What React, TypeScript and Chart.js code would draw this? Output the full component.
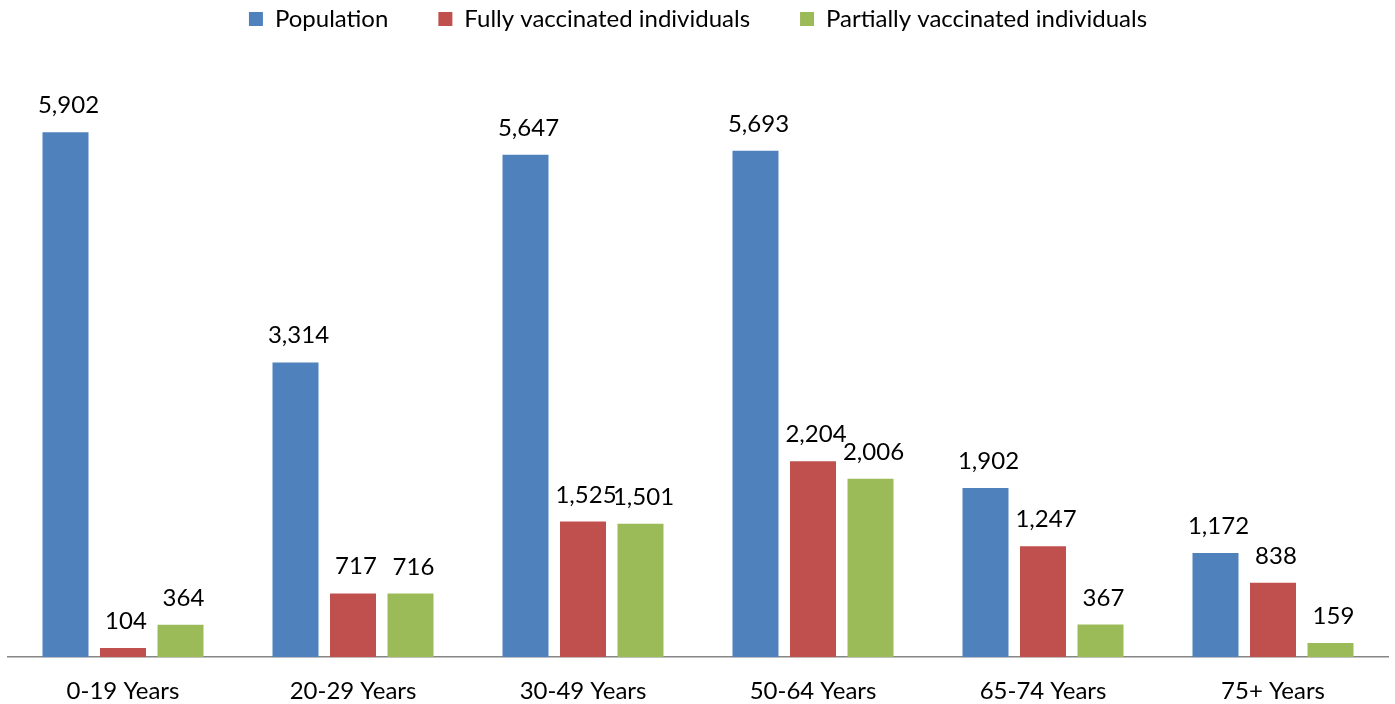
import React, { useEffect, useRef } from "react";
import { Chart, registerables } from "chart.js";

Chart.register(...registerables);

const categories = ["0-19 Years", "20-29 Years", "30-49 Years", "50-64 Years", "65-74 Years", "75+ Years"];
const population = [5902, 3314, 5647, 5693, 1902, 1172];
const fullyVaccinated = [104, 717, 1525, 2204, 1247, 838];
const partiallyVaccinated = [364, 716, 1501, 2006, 367, 159];
const seriesNames = ["Population", "Fully vaccinated individuals", "Partially vaccinated individuals"];
const seriesColors = ["#4F81BD", "#C0504D", "#9BBB59"];

const FONT = "Lato, 'Open Sans', sans-serif";

const valueLabels = {
  id: "valueLabels",
  afterDatasetsDraw(chart: any) {
    const ctx = chart.ctx;
    ctx.save();
    ctx.font = `24px ${FONT}`;
    ctx.fillStyle = "#000000";
    ctx.textAlign = "center";
    ctx.textBaseline = "alphabetic";
    chart.data.datasets.forEach((ds: any, di: number) => {
      const meta = chart.getDatasetMeta(di);
      meta.data.forEach((el: any, i: number) => {
        const v = ds.data[i] as number;
        ctx.fillText(v.toLocaleString("en-US"), el.x + 3, el.y - 19);
      });
    });
    ctx.restore();
  },
};

export default function App() {
  const ref = useRef<HTMLCanvasElement | null>(null);
  useEffect(() => {
    if (!ref.current) return;
    const data = [population, fullyVaccinated, partiallyVaccinated];
    const chart = new Chart(ref.current, {
      type: "bar",
      data: {
        labels: categories,
        datasets: data.map((d, i) => ({
          label: seriesNames[i],
          data: d,
          backgroundColor: seriesColors[i],
          borderWidth: 0,
          categoryPercentage: 0.75,
          barPercentage: 0.8,
        })),
      },
      options: {
        animation: false,
        responsive: false,
        maintainAspectRatio: false,
        layout: { padding: { top: -43, left: 8, right: 7, bottom: -22 } },
        plugins: {
          legend: {
            position: "top",
            align: "center",
            labels: {
              boxWidth: 14,
              boxHeight: 14,
              padding: 50,
              color: "#000000",
              font: { family: FONT, size: 24 },
            },
          },
          tooltip: { enabled: false },
        },
        scales: {
          x: {
            grid: { display: false, drawTicks: false },
            border: { display: true, color: "#868686", width: 1.5 },
            ticks: { color: "#000000", font: { family: FONT, size: 24 }, padding: 20 },
          },
          y: {
            display: false,
            min: 0,
            max: 6927,
          },
        },
      },
      plugins: [valueLabels],
    });
    return () => chart.destroy();
  }, []);
  return (
    <div style={{ position: "absolute", left: 0, top: 0, width: 1395, height: 704 }}>
      <canvas ref={ref} width={1395} height={704} style={{ width: 1395, height: 704, display: "block" }} />
    </div>
  );
}
